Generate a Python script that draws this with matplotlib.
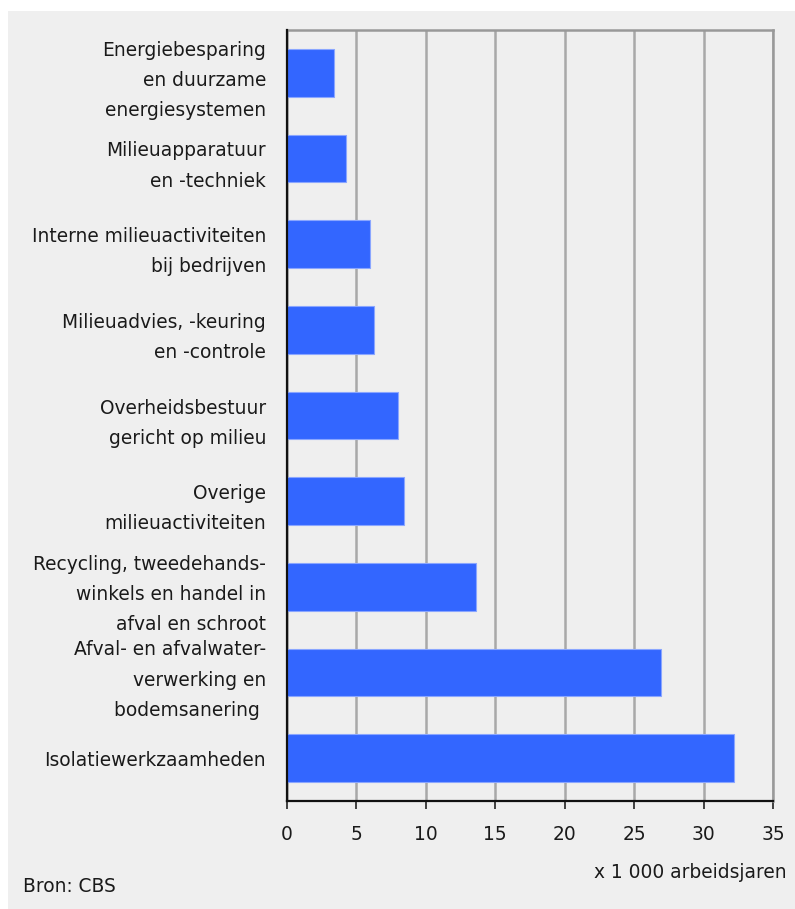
import matplotlib
matplotlib.use("Agg")
import matplotlib.pyplot as plt
from matplotlib.patches import Rectangle

categories = [
    "Energiebesparing\nen duurzame\nenergiesystemen",
    "Milieuapparatuur\nen -techniek",
    "Interne milieuactiviteiten\nbij bedrijven",
    "Milieuadvies, -keuring\nen -controle",
    "Overheidsbestuur\ngericht op milieu",
    "Overige\nmilieuactiviteiten",
    "Recycling, tweedehands-\nwinkels en handel in\nafval en schroot",
    "Afval- en afvalwater-\nverwerking en\nbodemsanering ",
    "Isolatiewerkzaamheden",
]
values = [3.4, 4.25, 6.0, 6.3, 8.0, 8.45, 13.6, 26.9, 32.2]
xticks = [0, 5, 10, 15, 20, 25, 30, 35]

plt.rcParams['font.family'] = ['DejaVu Sans']
FS = 13.4

W, H = 795, 909
fig = plt.figure(figsize=(W / 100, H / 100), dpi=100, facecolor='white')
fig.patches.append(Rectangle((8 / W, 0), 1 - 8 / W, 1 - 11 / H,
                             transform=fig.transFigure, facecolor='#efefef',
                             edgecolor='none', zorder=-10))

left, right, top, bottom = 287, 773, 30, 801
ax = fig.add_axes([left / W, 1 - bottom / H, (right - left) / W, (bottom - top) / H])
ax.set_facecolor('#efefef')

ypos = list(range(len(categories)))
ax.barh(ypos, values, height=0.56, color='#3366ff', edgecolor='#8aa6ff',
        linewidth=0.8, zorder=3)
ax.set_ylim(len(categories) - 0.5, -0.5)
ax.set_xlim(0, 35)
ax.set_xticks(xticks)
ax.set_xticklabels([str(t) for t in xticks], fontsize=FS, color='#1a1a1a')
ax.set_yticks(ypos)
ax.set_yticklabels(categories, fontsize=FS, color='#1a1a1a',
                   linespacing=1.75, ha='right')
ax.tick_params(axis='y', length=0, pad=15)
ax.tick_params(axis='x', length=6, width=1.2, color='#222222', pad=11,
               direction='out')

ax.grid(axis='x', color='#a8a8a8', linewidth=1.8, zorder=1)
ax.set_axisbelow(True)
for s in ['top', 'right']:
    ax.spines[s].set_color('#999999')
    ax.spines[s].set_linewidth(1.8)
for s in ['left', 'bottom']:
    ax.spines[s].set_color('#111111')
    ax.spines[s].set_linewidth(1.6)
ax.spines['left'].set_zorder(4)

fig.text(787 / W, 1 - 872 / H, "x 1 000 arbeidsjaren", ha='right', va='center',
         fontsize=FS, color='#1a1a1a')
fig.text(23 / W, 1 - 887 / H, "Bron: CBS", ha='left', va='center',
         fontsize=FS, color='#1a1a1a')

fig.savefig("out.png", dpi=100, facecolor=fig.get_facecolor())
